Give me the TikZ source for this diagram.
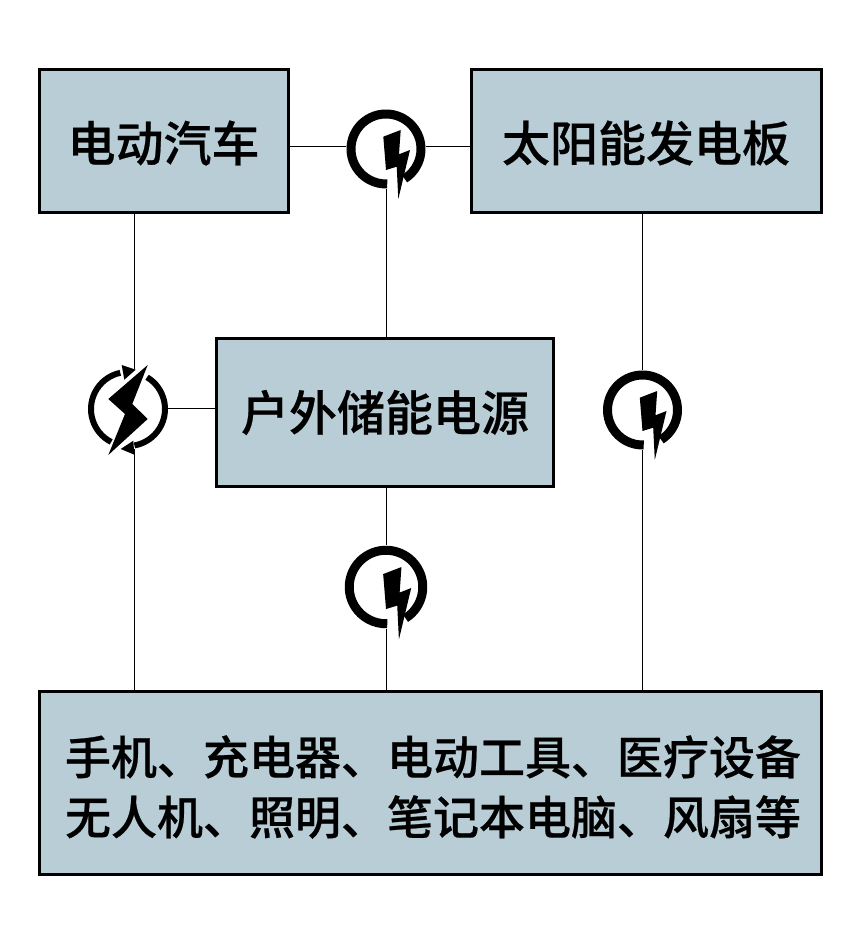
\documentclass[tikz,border=0pt]{standalone}
\usepackage{fontspec}
\usepackage{xcolor}
\newfontfamily\cjk[FakeBold=0.5]{Noto Sans CJK SC Medium}
\definecolor{cBox}{RGB}{184,205,214}
\newcommand{\lowtext}[2][2pt]{\raisebox{-#1}[\height][\depth]{#2}}
\tikzset{
	blk/.style   ={rectangle, draw=black, line width=3pt, fill=cBox, align=center, inner sep=0pt,
		font=\cjk\fontsize{48}{60}\selectfont},
	icon/.style  ={circle, minimum size=#1, inner sep=0pt},
	wire/.style  ={line width=1pt, black},
	% charging marks
	boltring/.pic={
		\draw[line width=9pt, black] (-58:35) arc[start angle=-58, end angle=272, radius=35];
		\fill[black] (-2.7,12.3) -- (14.7,19) -- (13,-5.3) -- (24,-1) -- (12.3,-50) -- (10.7,-17.7) -- (0,-21) -- cycle;
	},
	boltcycle/.pic={
		\draw[line width=6pt, black] (243:37) arc[start angle=243, end angle=102, radius=37];
		\draw[line width=6pt, black] (59:37) arc[start angle=59, end angle=-80, radius=37];
		\fill[black] (-6.3,44) -- (7.7,39.3) -- (-3.7,29.3) -- cycle;
		\fill[black] (-7.3,-40) -- (5.3,-31.7) -- (6.3,-45.7) -- cycle;
		\fill[black] (19.7,44) -- (-19.7,10) -- (-3,-5) -- (-19.7,-46) -- (19.7,-10) -- (4.3,5) -- cycle;
	},
}
\begin{document}
\begin{tikzpicture}[x=1pt, y=1pt]
	\useasboundingbox (0,0) rectangle (858,936);
	\node[blk, minimum width=249pt, minimum height=143pt] (ev)    at (163.5,795)   {\lowtext{电动汽车}};
	\node[blk, minimum width=350pt, minimum height=143pt] (solar) at (646,795)     {\lowtext{太阳能发电板}};
	\node[blk, minimum width=337pt, minimum height=148pt] (store) at (385,523.5)   {\lowtext[0pt]{户外储能电源}};
	\node[blk, minimum width=782pt, minimum height=183pt, font=\cjk\fontsize{46}{60}\selectfont] (dev) at (430,153)
		{\hspace{6pt}\lowtext[4pt]{\vbox{\hbox{手机、充电器、电动工具、医疗设备}\hbox{无人机、照明、笔记本电脑、风扇等}}}};
	\node[icon=79pt] (qtop)   at (386,787) {};
	\node[icon=80pt] (qleft)  at (128,527) {};
	\node[icon=79pt] (qright) at (642.5,526) {};
	\node[icon=83pt] (qdown)  at (386,349) {};
	\draw[wire] (qtop.176) -- (qtop.176 -| ev.east);
	\draw[wire] (qtop.4) -- (qtop.4 -| solar.west);
	\draw[wire] (qtop.south) -- (qtop.south |- store.north);
	\draw[wire] (qleft.81) -- (qleft.81 |- ev.south);
	\draw[wire] (qleft.-81) -- (qleft.-81 |- dev.north);
	\draw[wire] (qleft.east) -- (qleft.east -| store.west);
	\draw[wire] (qright.north) -- (qright.north |- solar.south);
	\draw[wire] (qright.south) -- (qright.south |- dev.north);
	\draw[wire] (qdown.north) -- (qdown.north |- store.south);
	\draw[wire] (qdown.south) -- (qdown.south |- dev.north);
	\pic at (qtop) {boltring};
	\pic at (qleft) {boltcycle};
	\pic at (qright) {boltring};
	\pic[scale=1.05] at (qdown) {boltring};
\end{tikzpicture}
\end{document}
